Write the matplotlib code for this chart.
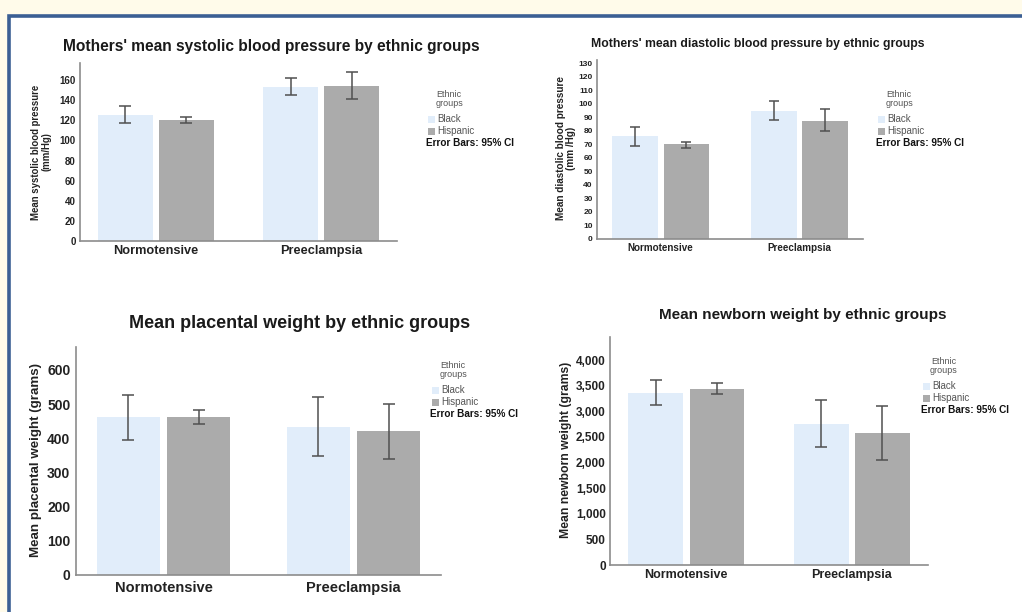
import numpy as np
import matplotlib
matplotlib.use('Agg')
import matplotlib.pyplot as plt
from matplotlib.patches import Rectangle
from matplotlib.ticker import FuncFormatter

plt.rcParams['font.family'] = ['Liberation Sans', 'DejaVu Sans']

groups = ["Normotensive", "Preeclampsia"]
ethnic = ["Black", "Hispanic"]

# systolic (mm/Hg)
sys_black = [125, 153]
sys_black_ci = [(117, 134), (145, 162)]
sys_hisp = [120, 154]
sys_hisp_ci = [(117, 123), (141, 168)]

# diastolic (mm/Hg)
dia_black = [76, 95]
dia_black_ci = [(69, 83), (88, 102)]
dia_hisp = [70, 87]
dia_hisp_ci = [(67.5, 72), (80, 96)]

# placental weight (grams)
pla_black = [461, 434]
pla_black_ci = [(395, 526), (349, 520)]
pla_hisp = [463, 420]
pla_hisp_ci = [(442, 483), (339, 500)]

# newborn weight (grams)
new_black = [3350, 2750]
new_black_ci = [(3120, 3610), (2310, 3210)]
new_hisp = [3430, 2570]
new_hisp_ci = [(3330, 3545), (2040, 3105)]

c_black = '#e1edfa'
c_hisp = '#ababab'
W, H = 1022, 612

fig = plt.figure(figsize=(W/100, H/100), dpi=100, facecolor='#fffbea')
fig.patches.append(Rectangle((9/W, -0.05), 1.1, 1.05-16/H, transform=fig.transFigure,
                             facecolor='white', edgecolor='#3b5f94', linewidth=2.6, zorder=-10))


def fx(x):
    return x/W


def fy(y):
    return 1-y/H


def panel(box, black, black_ci, hisp, hisp_ci, ymax, yticks, title, ylabel, fs, fmt=None):
    x0, y0, x1, y1 = box
    ax = fig.add_axes([fx(x0), fy(y1), (x1-x0)/W, (y1-y0)/H])
    ax.patch.set_alpha(0)
    x = np.arange(len(groups))
    w = 0.33
    off = 0.185
    for vals, ci, col, sgn in [(black, black_ci, c_black, -1), (hisp, hisp_ci, c_hisp, 1)]:
        lo = [v-c[0] for v, c in zip(vals, ci)]
        hi = [c[1]-v for v, c in zip(vals, ci)]
        ax.bar(x+sgn*off, vals, w, color=col, zorder=2)
        ax.errorbar(x+sgn*off, vals, yerr=[lo, hi], fmt='none', ecolor='#505050',
                    elinewidth=1.1, capsize=fs['cap'], capthick=1.1, zorder=3)
    ax.set_xlim(-0.46, 1.46)
    ax.set_ylim(0, ymax)
    ax.set_yticks(yticks)
    if fmt:
        ax.yaxis.set_major_formatter(FuncFormatter(fmt))
    ax.set_xticks(x)
    ax.set_xticklabels(groups, fontsize=fs['cat'], fontweight='bold', color='#222222')
    for lab in ax.get_yticklabels():
        lab.set_fontsize(fs['tick'])
        lab.set_fontweight('bold')
        lab.set_color('#222222')
    ax.tick_params(axis='both', length=0, pad=fs['pad'])
    for s in ['top', 'right']:
        ax.spines[s].set_visible(False)
    for s in ['left', 'bottom']:
        ax.spines[s].set_color('#8c8c8c')
        ax.spines[s].set_linewidth(1.2)
    fig.text(fx(fs['tx']), fy(fs['ty']), title, ha='center', va='center',
             fontsize=fs['title'], fontweight='bold', color='#1a1a1a')
    fig.text(fx(fs['lx']), fy(fs['ly']), ylabel, ha='center', va='center', rotation=90,
             fontsize=fs['ylab'], fontweight='bold', color='#222222', linespacing=1.0)
    # legend
    gx, gy = fs['leg']
    fig.text(fx(gx+21), fy(gy), "Ethnic\ngroups", ha='center', va='center',
             fontsize=6.5, color='#555555', linespacing=1.05)
    for i, (name, col) in enumerate([("Black", c_black), ("Hispanic", c_hisp)]):
        yy = gy+20+i*12
        fig.patches.append(Rectangle((fx(gx), fy(yy+3.5)), 7/W, 7/H, transform=fig.transFigure,
                                     facecolor=col, edgecolor='none'))
        fig.text(fx(gx+9), fy(yy), name, ha='left', va='center', fontsize=7, color='#555555')
    fig.text(fx(gx-2), fy(gy+44), "Error Bars: 95% CI", ha='left', va='center',
             fontsize=7.2, fontweight='bold', color='#111111')
    return ax


panel((80, 63, 397, 241), sys_black, sys_black_ci, sys_hisp, sys_hisp_ci, 177,
      range(0, 161, 20), "Mothers' mean systolic blood pressure by ethnic groups",
      "Mean systolic blood pressure\n(mm/Hg)",
      dict(cap=4.3, cat=9.2, tick=7, pad=3, title=11.2, tx=271, ty=47, ylab=6.9, lx=41, ly=152,
           leg=(428, 99)))

panel((597, 60, 863, 239), dia_black, dia_black_ci, dia_hisp, dia_hisp_ci, 132.4,
      range(0, 131, 10), "Mothers' mean diastolic blood pressure by ethnic groups",
      "Mean diastolic blood pressure\n(mm /Hg)",
      dict(cap=3.8, cat=7.1, tick=6, pad=3, title=8.8, tx=758, ty=44, ylab=7.2, lx=566, ly=148,
           leg=(878, 99)))

panel((76, 347, 441, 575), pla_black, pla_black_ci, pla_hisp, pla_hisp_ci, 667,
      range(0, 601, 100), "Mean placental weight by ethnic groups",
      "Mean placental weight (grams)",
      dict(cap=4.5, cat=10.5, tick=10, pad=4, title=13, tx=300, ty=324, ylab=9.6, lx=36, ly=460,
           leg=(432, 370)))

panel((610, 337, 928, 565), new_black, new_black_ci, new_hisp, new_hisp_ci, 4449,
      range(0, 4001, 500), "Mean newborn weight by ethnic groups",
      "Mean newborn weight (grams)",
      dict(cap=4.3, cat=9, tick=8.5, pad=3, title=11, tx=803, ty=315, ylab=8.8, lx=566, ly=450,
           leg=(923, 366)),
      fmt=lambda v, p: '{:,.0f}'.format(v))

fig.savefig('out.png', dpi=100, facecolor=fig.get_facecolor())
